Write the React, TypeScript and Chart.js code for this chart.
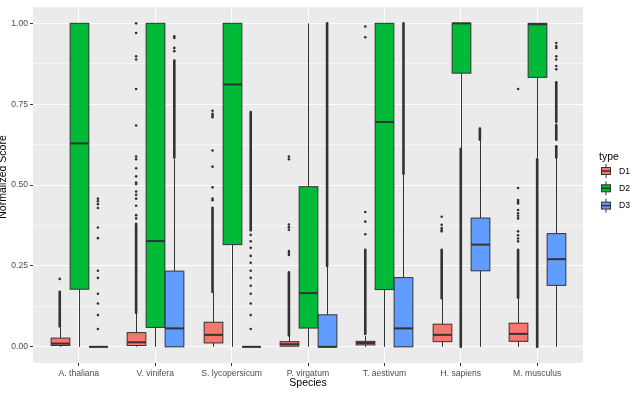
import { useEffect, useRef } from "react";
import { Chart, registerables } from "chart.js";

Chart.register(...registerables);

const FONT = '"Liberation Sans", Arial, Helvetica, sans-serif';

const species = [
  "A. thaliana",
  "V. vinifera",
  "S. lycopersicum",
  "P. virgatum",
  "T. aestivum",
  "H. sapiens",
  "M. musculus",
];

const typeNames = ["D1", "D2", "D3"];
const typeColors = ["#F8766D", "#00BA38", "#619CFF"];

const yTickValues = [0, 0.125, 0.25, 0.375, 0.5, 0.625, 0.75, 0.875, 1];
const yMajorTicks = [0, 0.25, 0.5, 0.75, 1];

// Box statistics per species: [lower whisker, Q1, median, Q3, upper whisker]
const d1Box = [
  [0, 0.004, 0.01, 0.027, 0.06],
  [0, 0.004, 0.014, 0.044, 0.104],
  [0, 0.012, 0.037, 0.076, 0.17],
  [0, 0.002, 0.008, 0.016, 0.035],
  [0, 0.006, 0.012, 0.017, 0.033],
  [0, 0.016, 0.037, 0.07, 0.15],
  [0, 0.017, 0.04, 0.073, 0.152],
];
const d2Box = [
  [0, 0.178, 0.629, 1, 1],
  [0, 0.06, 0.327, 1, 1],
  [0, 0.316, 0.811, 1, 1],
  [0, 0.058, 0.166, 0.495, 1],
  [0, 0.177, 0.695, 1, 1],
  [0.615, 0.846, 1, 1, 1],
  [0.584, 0.833, 0.997, 1, 1],
];
const d3Box = [
  [0, 0, 0, 0, 0],
  [0, 0, 0.057, 0.234, 0.58],
  [0, 0, 0, 0, 0],
  [0, 0, 0, 0.099, 0.25],
  [0, 0, 0.057, 0.214, 0.535],
  [0, 0.235, 0.316, 0.398, 0.64],
  [0, 0.19, 0.271, 0.35, 0.585],
];

// Individual outliers per species
const d1Outliers = [
  [0.21],
  [0.397, 0.407, 0.436, 0.458, 0.47, 0.48, 0.503, 0.508, 0.527, 0.552, 0.58, 0.588, 0.684, 0.797, 0.888, 0.898, 0.97, 1.0],
  [0.453, 0.458, 0.493, 0.557, 0.607, 0.71, 0.715, 0.72, 0.73],
  [0.284, 0.29, 0.296, 0.362, 0.37, 0.378, 0.58, 0.588],
  [0.348, 0.387, 0.417, 0.957, 0.99],
  [0.357, 0.362, 0.367, 0.377, 0.402],
  [0.326, 0.335, 0.345, 0.357, 0.397, 0.405, 0.413, 0.423, 0.443, 0.448, 0.454, 0.491, 0.797],
];
const d2Outliers = [[], [], [], [], [], [], []];
const d3Outliers = [
  [0.055, 0.098, 0.134, 0.164, 0.213, 0.235, 0.336, 0.369, 0.429, 0.441, 0.45, 0.458],
  [0.914, 0.924, 0.955, 0.96],
  [0.055, 0.098, 0.134, 0.164, 0.189, 0.213, 0.235, 0.26, 0.281, 0.306, 0.326, 0.346],
  [],
  [],
  [],
  [0.858, 0.868, 0.888, 0.898, 0.924, 0.93, 0.939],
];

// Stretches where outliers pile up into a solid run: [from, to]
const d1Runs = [
  [[0.063, 0.17]],
  [[0.105, 0.38]],
  [[0.17, 0.43]],
  [[0.035, 0.23]],
  [[0.04, 0.3]],
  [[0.15, 0.3]],
  [[0.152, 0.3]],
];
const d2Runs = [[], [], [], [], [], [[0, 0.612]], [[0, 0.58]]];
const d3Runs = [
  [],
  [[0.585, 0.885]],
  [[0.36, 0.726]],
  [[0.25, 1.0]],
  [[0.535, 1.0]],
  [[0.64, 0.675]],
  [[0.585, 0.62], [0.64, 0.686], [0.696, 0.818]],
];

const boxesByType = [d1Box, d2Box, d3Box];
const outliersByType = [d1Outliers, d2Outliers, d3Outliers];
const runsByType = [d1Runs, d2Runs, d3Runs];

const DODGE = 0.25;
const xFor = (speciesIdx: number, typeIdx: number) => speciesIdx + 1 + (typeIdx - 1) * DODGE;

const panelBackground = {
  id: "panelBackground",
  beforeDraw(chart: any) {
    const { ctx, chartArea: a } = chart;
    ctx.save();
    ctx.fillStyle = "#EBEBEB";
    ctx.fillRect(a.left, a.top, a.right - a.left, a.bottom - a.top);
    ctx.restore();
  },
};

const boxPlots = {
  id: "boxPlots",
  beforeDatasetsDraw(chart: any) {
    const { ctx } = chart;
    const xs = chart.scales.x;
    const ys = chart.scales.y;
    ctx.save();
    ctx.strokeStyle = "#333333";
    ctx.lineCap = "round";
    ctx.lineWidth = 2.6;
    runsByType.forEach((runs, t) => {
      runs.forEach((list, i) => {
        const cx = xs.getPixelForValue(xFor(i, t));
        list.forEach(([a, b]) => {
          ctx.beginPath();
          ctx.moveTo(cx, ys.getPixelForValue(a));
          ctx.lineTo(cx, ys.getPixelForValue(b));
          ctx.stroke();
        });
      });
    });
    ctx.restore();
  },
  afterDatasetsDraw(chart: any) {
    const { ctx } = chart;
    const xs = chart.scales.x;
    const ys = chart.scales.y;
    const hw = ((xs.getPixelForValue(DODGE) - xs.getPixelForValue(0)) / 2) * 0.98;
    ctx.save();
    boxesByType.forEach((boxes, t) => {
      boxes.forEach(([lw, q1, med, q3, uw], i) => {
        const cx = Math.round(xs.getPixelForValue(xFor(i, t))) + 0.5;
        const yLw = ys.getPixelForValue(lw);
        const yQ1 = ys.getPixelForValue(q1);
        const yMed = ys.getPixelForValue(med);
        const yQ3 = ys.getPixelForValue(q3);
        const yUw = ys.getPixelForValue(uw);
        ctx.strokeStyle = "#333333";
        ctx.lineWidth = 1;
        ctx.lineCap = "butt";
        ctx.beginPath();
        ctx.moveTo(cx, yLw);
        ctx.lineTo(cx, yQ1);
        ctx.moveTo(cx, yQ3);
        ctx.lineTo(cx, yUw);
        ctx.stroke();
        ctx.fillStyle = typeColors[t];
        ctx.fillRect(cx - hw, yQ3, hw * 2, yQ1 - yQ3);
        ctx.strokeRect(cx - hw, yQ3, hw * 2, yQ1 - yQ3);
        ctx.lineWidth = 2;
        ctx.beginPath();
        ctx.moveTo(cx - hw, yMed);
        ctx.lineTo(cx + hw, yMed);
        ctx.stroke();
      });
    });
    ctx.restore();
  },
};

const titlesAndLegend = {
  id: "titlesAndLegend",
  afterDraw(chart: any) {
    const { ctx, chartArea: a } = chart;
    ctx.save();
    ctx.fillStyle = "#000000";
    ctx.font = `10.5px ${FONT}`;
    ctx.textAlign = "center";
    ctx.textBaseline = "middle";
    ctx.fillText("Species", (a.left + a.right) / 2, 383);
    ctx.save();
    ctx.translate(3.5, 177);
    ctx.rotate(-Math.PI / 2);
    ctx.fillText("Normalized Score", 0, 0);
    ctx.restore();

    // legend
    ctx.textAlign = "left";
    ctx.fillText("type", 599, 157.5);
    ctx.font = `8.6px ${FONT}`;
    typeNames.forEach((name, t) => {
      const cy = 171 + t * 17.3;
      const x0 = 601;
      const w = 10;
      ctx.strokeStyle = "#333333";
      ctx.lineWidth = 1;
      ctx.beginPath();
      ctx.moveTo(x0 + w / 2, cy - 7);
      ctx.lineTo(x0 + w / 2, cy + 7);
      ctx.stroke();
      ctx.fillStyle = typeColors[t];
      ctx.fillRect(x0, cy - 3.5, w, 7);
      ctx.strokeRect(x0 + 0.5, cy - 3.5, w - 1, 7);
      ctx.lineWidth = 1.5;
      ctx.beginPath();
      ctx.moveTo(x0, cy);
      ctx.lineTo(x0 + w, cy);
      ctx.stroke();
      ctx.fillStyle = "#000000";
      ctx.fillText(name, 619, cy + 0.5);
    });
    ctx.restore();
  },
};

export default function App() {
  const canvasRef = useRef<HTMLCanvasElement | null>(null);

  useEffect(() => {
    document.body.style.margin = "0";
    const canvas = canvasRef.current;
    if (!canvas) return;

    const datasets = outliersByType.map((perSpecies, t) => ({
      label: typeNames[t],
      data: perSpecies.flatMap((vals, i) => vals.map((v) => ({ x: xFor(i, t), y: v }))),
      pointRadius: 1.3,
      pointBackgroundColor: "#333333",
      pointBorderWidth: 0,
      showLine: false,
    }));

    const chart = new Chart(canvas, {
      type: "scatter",
      data: { datasets },
      plugins: [panelBackground, boxPlots, titlesAndLegend],
      options: {
        animation: false,
        responsive: false,
        events: [],
        layout: { padding: { top: 2, right: 52, left: 0, bottom: 0 } },
        plugins: {
          legend: { display: false },
          tooltip: { enabled: false },
        },
        scales: {
          x: {
            type: "linear",
            min: 0.4,
            max: 7.6,
            afterBuildTicks: (scale: any) => {
              scale.ticks = species.map((_, i) => ({ value: i + 1 }));
            },
            afterFit: (scale: any) => {
              scale.height = 30;
            },
            border: { display: false },
            grid: {
              color: "#FFFFFF",
              lineWidth: 1,
              tickColor: "#333333",
              tickLength: 3,
            },
            ticks: {
              autoSkip: false,
              maxRotation: 0,
              padding: 2,
              color: "#4D4D4D",
              font: { family: FONT, size: 8.6 },
              callback: (v: any) => species[Math.round(Number(v)) - 1] ?? "",
            },
          },
          y: {
            type: "linear",
            min: -0.05,
            max: 1.05,
            afterBuildTicks: (scale: any) => {
              scale.ticks = yTickValues.map((v) => ({ value: v }));
            },
            afterFit: (scale: any) => {
              scale.width = 33;
            },
            border: { display: false },
            grid: {
              color: "#FFFFFF",
              lineWidth: (c: any) => (yMajorTicks.includes(c.tick?.value) ? 1 : 0.5),
              tickColor: (c: any) => (yMajorTicks.includes(c.tick?.value) ? "#333333" : "rgba(0,0,0,0)"),
              tickLength: 3,
            },
            ticks: {
              autoSkip: false,
              padding: 2,
              color: "#4D4D4D",
              font: { family: FONT, size: 8.6 },
              callback: (v: any) => (yMajorTicks.includes(Number(v)) ? Number(v).toFixed(2) : ""),
            },
          },
        },
      } as any,
    });

    return () => chart.destroy();
  }, []);

  return (
    <div style={{ width: 635, height: 393 }}>
      <canvas ref={canvasRef} width={635} height={393} style={{ display: "block" }} />
    </div>
  );
}
